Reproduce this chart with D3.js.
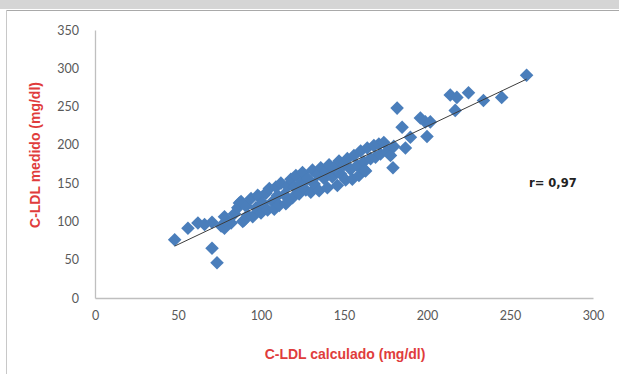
<!DOCTYPE html>
<html>
<head>
<meta charset="utf-8">
<script src="https://cdn.jsdelivr.net/npm/d3@7"></script>
<style>
  body { margin: 0; background: #fff; }
  svg { display: block; font-family: Lato, "Open Sans", sans-serif; }
</style>
</head>
<body>
<svg id="chart" width="619" height="374"></svg>
<script>
// C-LDL calculado (x) vs C-LDL medido (y), mg/dl
const calculado = [
  48, 56, 62, 66, 70.5, 70.5, 73.5, 76, 78, 78, 80, 82, 84, 86, 87, 88, 89, 90, 91, 92,
  94, 95, 97, 98, 99, 100, 101, 103, 104, 105, 107, 108, 109, 110, 111, 112, 114, 115, 116, 118,
  119, 120, 121, 123, 124, 125, 127, 128, 130, 131, 132, 134, 135, 136, 138, 139, 140, 141, 143, 144,
  146, 147, 148, 150, 151, 152, 154, 155, 156, 158, 159, 160, 162, 162.5, 163, 164, 166, 168, 169, 171,
  172, 174, 176, 178, 179.5, 180, 182, 185, 187, 190, 196, 199, 200, 202, 214, 217, 218, 225, 234, 245, 260
];
const medido = [
  76, 91, 98, 96, 99, 65, 46, 94, 106, 91, 97, 98, 110, 118, 124, 126, 100, 102, 120, 108,
  130, 106, 118, 134, 132, 111, 124, 137, 115, 143, 126, 116, 145, 134, 121, 150, 135, 123, 146, 155,
  131, 145, 160, 136, 150, 164, 141, 156, 138, 167, 149, 161, 140, 170, 156, 166, 144, 174, 158, 170,
  147, 179, 162, 174, 154, 182, 168, 155, 186, 173, 160, 192, 178, 167, 166, 196, 182, 199, 184, 201,
  188, 203, 191, 186, 170, 198, 248, 223, 196, 210, 235, 230, 211, 230, 265, 245, 262, 268, 258, 262, 291
];
const xTicks = [0, 50, 100, 150, 200, 250, 300];
const yTicks = [0, 50, 100, 150, 200, 250, 300, 350];
const rLabel = "r= 0,97";

const svg = d3.select("#chart");

// frame like the pasted Excel chart
svg.append("rect").attr("x", 0).attr("y", 0).attr("width", 619).attr("height", 9).attr("fill", "#d5d5d5");
svg.append("line").attr("x1", 6).attr("x2", 619).attr("y1", 10.5).attr("y2", 10.5).attr("stroke", "#a9a9a9");
svg.append("line").attr("x1", 6.5).attr("x2", 6.5).attr("y1", 10).attr("y2", 374).attr("stroke", "#c8c8c8");

const x = d3.scaleLinear().domain([0, 300]).range([95, 593]);
const y = d3.scaleLinear().domain([0, 350]).range([298, 30]);

// axes
const xAxis = svg.append("g").attr("transform", "translate(0,298)")
  .call(d3.axisBottom(x).tickValues(xTicks).tickSize(0).tickPadding(13));
const yAxis = svg.append("g").attr("transform", "translate(95,0)")
  .call(d3.axisLeft(y).tickValues(yTicks).tickSize(0).tickPadding(16));
[xAxis, yAxis].forEach(g => {
  g.select(".domain").attr("stroke", "#bfbfbf").attr("stroke-width", 1.3);
  g.selectAll("text").attr("fill", "#595959").style("font-size", "12.5px").style("font-family", "Lato, sans-serif");
});

// points
const pts = calculado.map((v, i) => [v, medido[i]]);
svg.append("g").selectAll("path").data(pts).enter().append("path")
  .attr("d", d3.symbol(d3.symbolSquare, 92))
  .attr("transform", d => "translate(" + x(d[0]) + "," + y(d[1]) + ") rotate(45)")
  .attr("fill", "#4a7ebb");

// linear trendline
const mx = d3.mean(calculado), my = d3.mean(medido);
const slope = d3.sum(pts, d => (d[0] - mx) * (d[1] - my)) / d3.sum(pts, d => (d[0] - mx) ** 2);
const icpt = my - slope * mx;
const [x0, x1] = d3.extent(calculado);
svg.append("line")
  .attr("x1", x(x0)).attr("y1", y(icpt + slope * x0))
  .attr("x2", x(x1)).attr("y2", y(icpt + slope * x1))
  .attr("stroke", "#3c3c3c").attr("stroke-width", 1);

// correlation note
svg.append("text").attr("x", 529).attr("y", 187)
  .attr("fill", "#222").style("font-size", "11.5px").style("font-weight", "bold")
  .style("font-family", "'DejaVu Sans', sans-serif")
  .text(rLabel);

// axis titles
svg.append("text").attr("x", 345).attr("y", 359).attr("text-anchor", "middle")
  .attr("fill", "#e03c3c").style("font-size", "14px").style("font-weight", "bold")
  .style("font-family", "'Liberation Sans', Arial, sans-serif")
  .text("C-LDL calculado  (mg/dl)");
svg.append("text").attr("transform", "translate(40,155) rotate(-90)").attr("text-anchor", "middle")
  .attr("fill", "#e03c3c").style("font-size", "14px").style("font-weight", "bold")
  .style("font-family", "'Liberation Sans', Arial, sans-serif")
  .text("C-LDL medido  (mg/dl)");
</script>
</body>
</html>
